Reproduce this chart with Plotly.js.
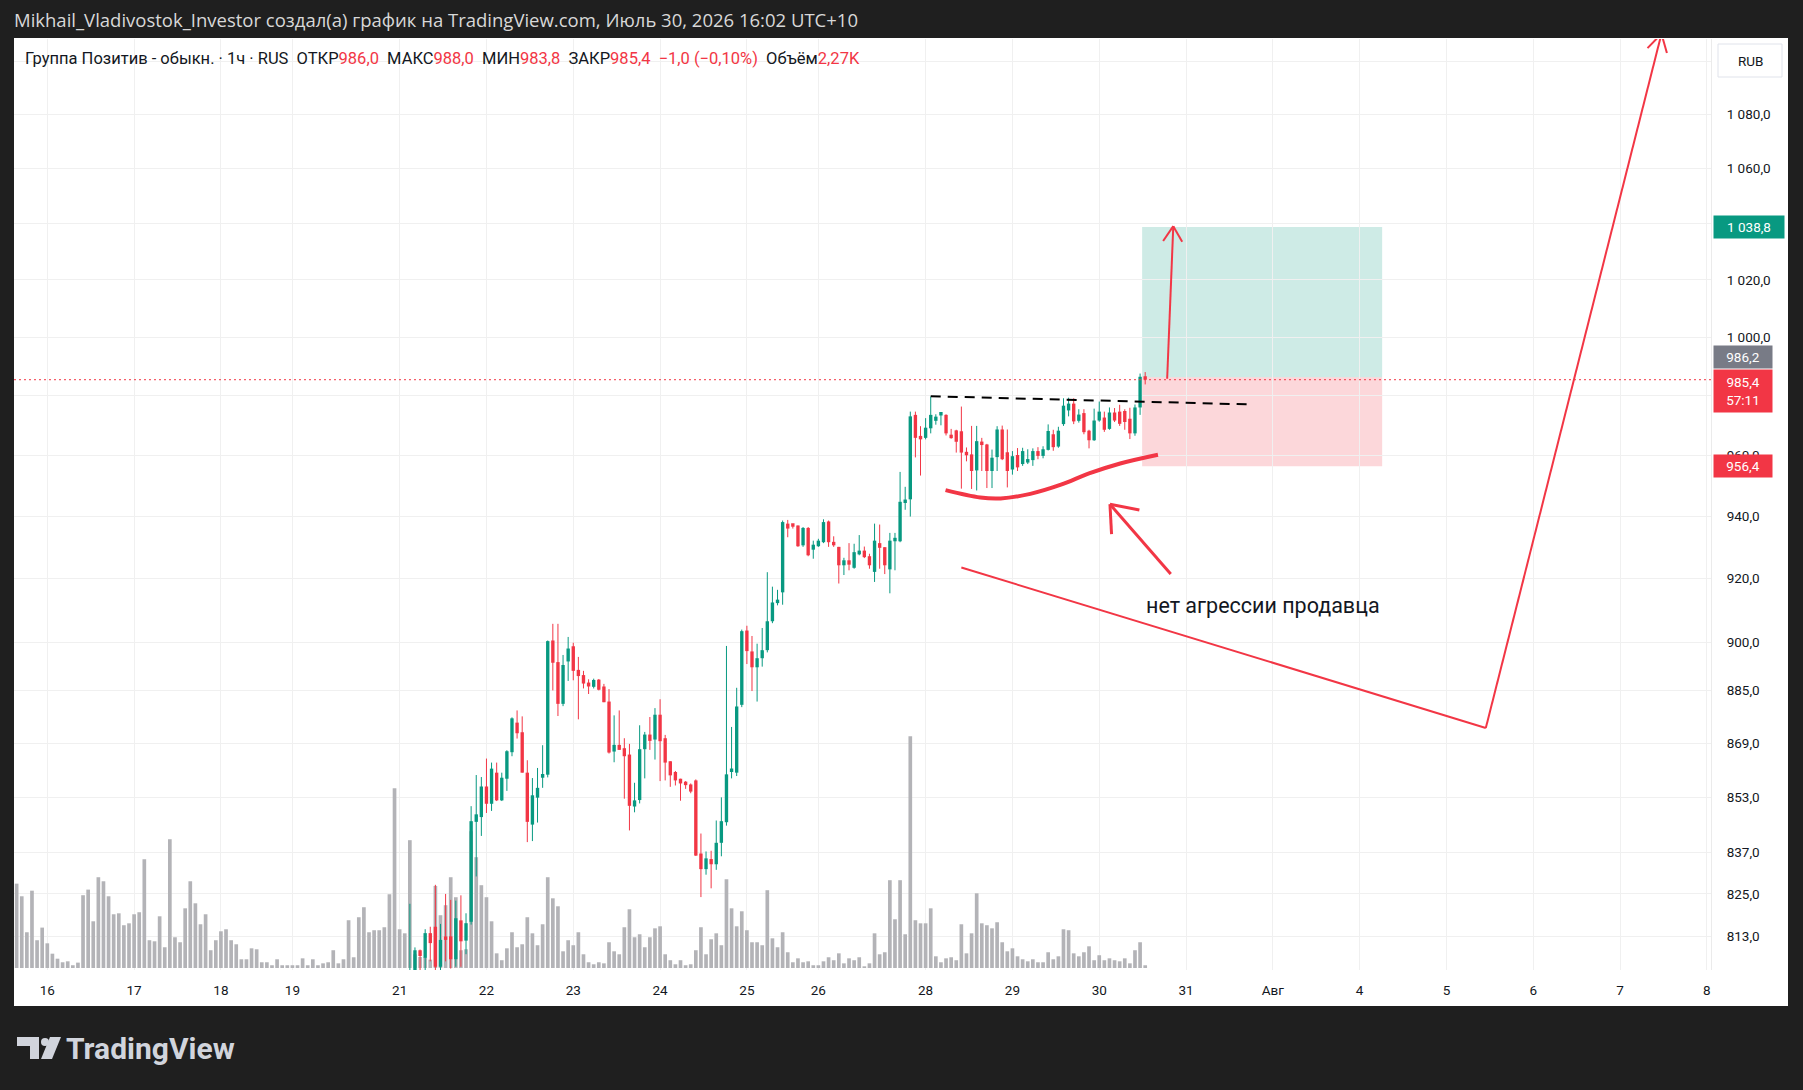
<!DOCTYPE html>
<html><head><meta charset="utf-8">
<script src="https://cdn.plot.ly/plotly-3.0.1.min.js"></script>
<style>html,body{margin:0;padding:0;background:#1f1f1f;overflow:hidden}#chart{width:1803px;height:1090px}</style>
</head><body><div id="chart"></div>
<script>
// ---------------- DATA ----------------
// bar index 0 = first hourly bar of "16"; volume starts at bar -6
const volumeStart = -6;
const volume = [
 70.8,60.2,30.0,64.9,23.3,33.9,
 20.7,12.0,7.8,4.8,5.6,2.3,4.5,61.1,65.8,39.2,76.2,72.8,60.2,45.1,45.9,35.9,37.5,
 45.1,46.8,91.3,23.3,22.4,43.4,17.4,108.1,25.8,21.6,50.1,72.8,54.3,36.7,45.1,14.9,23.3,
 30.8,32.5,23.3,19.9,7.3,7.3,16.5,15.7,4.8,4.8,2.3,7.3,2.3,2.3,
 2.3,2.3,8.1,2.3,7.3,2.3,3.9,4.8,14.9,3.9,7.3,40.1,9.0,42.6,51.0,30.0,31.7,31.7,34.2,61.9,150.9,
 32.5,29.1,107.3,11.5,9.2,9.0,7.0,68.9,44.3,52.7,76.2,59.4,14.9,15.7,114.8,93.0,69.5,
 59.4,39.2,12.3,6.5,16.5,30.0,17.4,19.9,42.6,29.1,19.1,36.7,76.2,58.5,51.8,14.0,23.3,
 19.1,30.0,11.5,4.8,3.1,4.8,3.9,21.6,14.0,11.5,34.2,49.3,25.8,28.3,17.4,25.8,33.3,
 35.0,11.5,6.5,3.1,6.5,2.3,3.1,14.9,34.2,11.5,24.1,29.1,19.1,74.5,50.1,35.0,47.6,
 31.7,21.6,21.6,19.1,65.3,24.9,17.4,30.0,13.2,4.8,8.1,4.8,5.6,2.3,
 2.3,5.6,9.0,6.5,12.3,3.9,8.1,6.5,9.0,1.4,3.9,29.1,11.5,13.2,73.7,40.9,73.7,28.3,194.6,40.1,37.5,
 37.5,50.1,9.8,4.8,8.1,9.0,6.5,36.7,12.3,29.1,62.7,37.5,35.9,33.3,38.4,21.6,14.0,
 16.5,9.8,7.3,5.6,7.3,4.8,4.8,13.2,7.3,9.8,32.5,31.7,12.3,9.8,13.2,18.2,6.5,
 10.7,6.5,8.1,6.5,5.6,8.1,3.9,14.9,21.6,2.27
];
// candles visible from bar 71
const candleStart = 71;
const open = [
 796,803,809.1,807.0,813.9,815.7,804.5,812.5,813.0,806.6,
 817.5,811.8,817.1,845.8,847.2,856.2,851.1,860.3,852.1,858.5,
 866.4,875.3,872.4,860.3,845.0,852.9,858.8,859.7,900.5,893.8,
 881.0,894.0,898.7,891.4,889.8,887.5,886.2,888.4,886.3,881.7,
 866.6,868.6,867.6,865.7,850.3,852.2,867.3,871.7,870.2,877.7,
 870.6,863.7,860.5,858.5,857.5,856.8,858.0,836.6,832.1,835.0,
 833.5,839.7,845.7,860.5,860.3,880.7,903.6,897.1,892.2,895.0,
 897.5,906.5,912.2,915.6,937.6,937.0,937.0,930.6,936.2,929.2,
 930.3,931.6,938.3,931.6,930.1,924.2,925.8,923.4,927.7,928.9,
 927.1,922.1,931.3,930.0,922.9,931.9,931.9,944.3,945.5,973.5,
 966.0,965.8,969.0,971.5,973.3,973.5,966.6,968.3,968.0,960.9,
 960.3,955.0,963.8,963.6,954.8,959.4,968.6,961.0,955.3,960.1,
 957.1,957.6,958.4,961.4,959.8,961.8,967.0,962.9,970.4,975.0,
 977.3,971.5,974.1,968.2,965.0,971.6,972.6,968.8,974.3,974.6,
 974.8,972.2,967.3,976.0,986.0
];
const high = [
 822.2,809.9,809.3,815.0,815.7,827.6,816.5,825.0,823.3,823.1,
 824.6,819.5,850.4,859.6,859.0,864.5,863.3,863.3,860.3,867.0,
 876.9,879.0,877.2,864.0,858.7,861.7,868.5,900.5,905.7,905.7,
 896.0,901.6,899.8,895.4,891.1,888.5,888.7,888.6,887.1,885.5,
 877.5,879.0,870.6,868.9,857.3,874.5,872.5,877.0,879.7,882.4,
 871.6,863.7,860.8,858.5,857.8,857.1,858.3,842.4,837.2,837.4,
 846.2,853.0,898.8,874.0,885.9,903.9,905.1,901.9,899.5,904.4,
 922.0,917.4,916.4,938.6,938.8,937.4,937.0,936.5,936.5,932.1,
 932.7,939.0,938.6,933.5,930.1,926.6,931.3,931.1,933.9,930.2,
 927.9,937.6,937.3,930.0,934.6,934.6,954.5,949.6,974.6,974.6,
 969.7,972.4,979.7,973.7,973.7,973.7,968.8,968.5,976.3,962.6,
 969.8,969.8,965.8,963.8,961.9,969.7,969.9,968.6,961.4,962.4,
 962.5,962.0,962.3,962.7,963.0,970.3,968.5,969.5,979.1,979.3,
 979.1,975.4,975.4,968.5,975.6,978.0,974.6,976.0,975.8,976.9,
 975.4,975.9,977.0,987.5,988.0
];
const low = [
 790,800,803,803,806,802,802,806,804,804.5,
 804.5,808,816.3,830.0,841.7,848.4,849.0,851.9,851.9,854.9,
 865.2,870.5,860.3,839.9,840.2,845.6,855.8,858.9,885.1,877.3,
 880.3,888.0,888.2,876.3,885.7,884.0,885.7,885.1,881.5,866.0,
 863.4,867.1,852.6,843.3,848.6,851.2,858.6,867.1,864.2,857.8,
 858.0,856.1,856.5,852.0,855.5,854.2,835.9,824.1,830.5,826.6,
 831.9,835.8,844.7,858.6,859.3,880.0,893.2,884.9,881.7,892.4,
 896.8,905.9,911.5,911.7,933.2,936.0,930.1,930.1,927.1,926.3,
 930.1,931.3,930.1,930.1,918.4,921.1,922.6,923.1,927.4,926.5,
 923.1,918.9,923.1,921.4,915.3,922.6,931.6,942.1,939.9,959.3,
 953.3,965.3,967.3,970.2,970.0,966.6,965.5,960.9,949.0,958.0,
 948.9,948.4,954.8,949.2,949.2,954.8,958.4,949.4,953.6,954.8,
 956.5,957.1,956.5,958.7,959.0,961.6,961.5,962.5,969.8,973.0,
 970.4,970.9,967.0,962.3,964.8,971.2,967.8,968.5,971.1,969.8,
 968.5,965.4,966.5,973.5,983.8
];
const close = [
 801,809.1,807.5,813.9,811.1,804.5,812.0,812.0,806.6,818.1,
 811.6,816.7,846.0,848.0,856.2,851.1,861.5,852.1,858.8,866.7,
 876.6,872.1,860.3,845.8,853.6,855.8,859.9,900.3,893.6,881.0,
 892.9,898.0,891.1,889.5,887.2,886.3,888.3,885.3,881.5,866.3,
 868.6,867.1,865.2,850.5,852.1,867.3,871.7,869.8,877.7,869.7,
 863.3,859.5,858.0,857.1,856.6,854.7,836.0,832.1,835.2,833.5,
 839.7,846.0,859.8,860.7,880.2,903.4,897.2,892.2,895.0,897.5,
 906.5,912.4,912.9,938.1,936.0,936.6,930.3,936.2,927.4,930.8,
 932.1,938.1,931.6,930.6,924.2,925.8,924.4,928.4,928.9,926.8,
 924.2,932.1,929.8,924.2,932.1,932.3,944.7,944.7,973.0,965.8,
 965.3,969.2,973.5,972.9,973.5,967.3,965.7,964.5,960.9,960.0,
 954.8,964.7,963.4,954.8,959.2,968.6,958.7,954.8,959.7,956.0,
 961.4,958.2,961.4,959.8,962.0,968.1,962.7,968.2,976.6,977.3,
 971.3,973.6,967.7,965.0,971.6,974.6,968.5,974.3,971.6,970.5,
 971.1,967.3,976.0,986.4,985.4
];
// time axis
const dayTickIndex = [0,17,34,48,69,86,103,120,137,151,172,189,206,223,240,257,274,291,308,325];
const dayTickText  = ['16','17','18','19','21','22','23','24','25','26','28','29','30','31','Авг','4','5','6','7','8'];
// price axis (grid levels; labels hidden behind the price tags are left blank)
const priceTicks = [813,825,837,853,869,885,900,920,940,960,980,1000,1020,1040,1060,1080,1100];
const priceTickText = ['813,0','825,0','837,0','853,0','869,0','885,0','900,0','920,0','940,0','960,0','','1 000,0','1 020,0','','1 060,0','1 080,0',''];
// long position tool
const posBars = [214.4, 261.4];
const posEntry = 986.2, posTarget = 1038.8, posStop = 956.4;
const lastPrice = 985.4;
// drawings (bar index, price)
const resistIdx = [173, 236], resistPrice = [979.8, 977.0];
const curveIdx = [175.9, 182.7, 186.7, 192.5, 198.5, 204.0, 210.1, 217.5];
const curvePrice = [948.5, 946.1, 945.8, 947.3, 950.3, 954.0, 957.3, 960.2];
const targetArrowIdx = [219.3, 220.5], targetArrowPrice = [985.7, 1039.1];
const sellerArrowIdx = [220.0, 208.1], sellerArrowPrice = [921.4, 943.9];
const bigLineIdx = [179.0, 281.7, 316.1], bigLinePrice = [923.5, 873.7, 1110.5];
const noteIdx = 214.7, notePrice = 911.6;

// ---------------- LAYOUT GEOMETRY ----------------
const W=1803, H=1090, ML=14, MR=92, MT=39, MB=120;
const PW=W-ML-MR, PH=H-MT-MB;
const xr=[-6.52, 325.8];
const yr=[Math.log10(803.6), Math.log10(1108.5)];
const FONT = 'Roboto, "Liberation Sans", Arial, sans-serif';
const GREEN='#089981', RED='#f23645';
const px = x => (x-ML)/PW, py = y => (H-MB-y)/PH;
function pxOf(i,p){return [ML+(i-xr[0])/(xr[1]-xr[0])*PW, MT+(yr[1]-Math.log10(p))/(yr[1]-yr[0])*PH];}
function dataOf(x,y){return [xr[0]+(x-ML)/PW*(xr[1]-xr[0]), Math.pow(10, yr[1]-(y-MT)/PH*(yr[1]-yr[0]))];}
function head(iFrom,pFrom,iTip,pTip,len,ang,color,width){
  const a=pxOf(iFrom,pFrom), b=pxOf(iTip,pTip);
  const dx=a[0]-b[0], dy=a[1]-b[1], L=Math.hypot(dx,dy), ux=dx/L, uy=dy/L;
  return [1,-1].map(s=>{
    const t=s*ang*Math.PI/180, c=Math.cos(t), sn=Math.sin(t);
    const h=dataOf(b[0]+len*(ux*c-uy*sn), b[1]+len*(ux*sn+uy*c));
    return {type:'line',xref:'x',yref:'y2',x0:iTip,y0:pTip,x1:h[0],y1:h[1],line:{color,width}};
  });
}

// ---------------- TRACES ----------------
const volX = volume.map((_,k)=>volumeStart+k);
const cIdx = open.map((_,k)=>candleStart+k);
function bodies(up){
  const x=[],b=[],y=[];
  cIdx.forEach((i,k)=>{ if((close[k]>=open[k])===up){ const lo=Math.min(open[k],close[k]); x.push(i); b.push(lo); y.push(Math.max(Math.abs(close[k]-open[k]), lo*0.0012)); }});
  return {type:'bar',x,y,base:b,width:0.66,yaxis:'y2',marker:{color:up?GREEN:RED,line:{width:0}},hoverinfo:'skip'};
}
function wicks(up){
  const x=[],y=[];
  cIdx.forEach((i,k)=>{ if((close[k]>=open[k])===up){ x.push(i,i,null); y.push(low[k],high[k],null); }});
  return {type:'scatter',mode:'lines',x,y,yaxis:'y2',line:{color:up?GREEN:RED,width:1},hoverinfo:'skip'};
}
const traces = [
  {type:'bar',x:volX,y:volume,width:0.72,yaxis:'y',marker:{color:'#b3b3b7',line:{width:0}},hoverinfo:'skip'},
  wicks(true), wicks(false), bodies(true), bodies(false),
  {type:'scatter',mode:'lines',x:curveIdx,y:curvePrice,yaxis:'y2',line:{color:RED,width:4,shape:'spline',smoothing:1},hoverinfo:'skip'}
];

// ---------------- SHAPES ----------------
const shapes = [
  {type:'rect',xref:'paper',yref:'paper',x0:px(14),x1:px(1788),y0:py(1006),y1:py(38),fillcolor:'#ffffff',line:{width:0},layer:'below'},
  {type:'rect',xref:'x',yref:'y2',x0:posBars[0],x1:posBars[1],y0:posEntry,y1:posTarget,fillcolor:'rgba(8,153,129,0.2)',line:{width:0},layer:'below'},
  {type:'rect',xref:'x',yref:'y2',x0:posBars[0],x1:posBars[1],y0:posStop,y1:posEntry,fillcolor:'rgba(242,54,69,0.2)',line:{width:0},layer:'below'},
  {type:'line',xref:'paper',yref:'y2',x0:0,x1:1,y0:lastPrice,y1:lastPrice,line:{color:RED,width:1,dash:'2px,3px'}},
  {type:'line',xref:'x',yref:'y2',x0:resistIdx[0],x1:resistIdx[1],y0:resistPrice[0],y1:resistPrice[1],line:{color:'#000000',width:2,dash:'10px,7px'}},
  {type:'line',xref:'x',yref:'y2',x0:targetArrowIdx[0],x1:targetArrowIdx[1],y0:targetArrowPrice[0],y1:targetArrowPrice[1],line:{color:RED,width:2}},
  ...head(targetArrowIdx[0],targetArrowPrice[0],targetArrowIdx[1],targetArrowPrice[1],18,32,RED,2),
  {type:'line',xref:'x',yref:'y2',x0:sellerArrowIdx[0],x1:sellerArrowIdx[1],y0:sellerArrowPrice[0],y1:sellerArrowPrice[1],line:{color:RED,width:3}},
  ...head(sellerArrowIdx[0],sellerArrowPrice[0],sellerArrowIdx[1],sellerArrowPrice[1],30,38,RED,3),
  {type:'line',xref:'x',yref:'y2',x0:bigLineIdx[0],x1:bigLineIdx[1],y0:bigLinePrice[0],y1:bigLinePrice[1],line:{color:RED,width:2}},
  {type:'line',xref:'x',yref:'y2',x0:bigLineIdx[1],x1:bigLineIdx[2],y0:bigLinePrice[1],y1:bigLinePrice[2],line:{color:RED,width:2}},
  ...head(bigLineIdx[1],bigLinePrice[1],bigLineIdx[2],bigLinePrice[2],20,30,RED,2),
  // RUB box
  {type:'rect',xref:'paper',yref:'paper',x0:px(1718),x1:px(1782),y0:py(77),y1:py(44),fillcolor:'#ffffff',line:{color:'#e0e3eb',width:1}},
  // TradingView logo
  {type:'rect',xref:'paper',yref:'paper',x0:px(17),x1:px(39),y0:py(1046),y1:py(1037),fillcolor:'#d1d4dc',line:{width:0}},
  {type:'rect',xref:'paper',yref:'paper',x0:px(30),x1:px(39),y0:py(1059),y1:py(1037),fillcolor:'#d1d4dc',line:{width:0}},
  {type:'circle',xref:'paper',yref:'paper',x0:px(41),x1:px(49),y0:py(1046),y1:py(1038),fillcolor:'#d1d4dc',line:{width:0}},
  {type:'path',xref:'paper',yref:'paper',path:`M ${px(50)} ${py(1037)} L ${px(61)} ${py(1037)} L ${px(52)} ${py(1059)} L ${px(41)} ${py(1059)} Z`,fillcolor:'#d1d4dc',line:{width:0}}
];

// ---------------- ANNOTATIONS ----------------
function axisLabel(price, text, bg, yshift, w, h, anchor){
  return {xref:'paper',x:px(1713),xanchor:'left',yref:'y2',y:Math.log10(price),yanchor:anchor||'middle',yshift:yshift,
    text,showarrow:false,bgcolor:bg,width:w,height:h,align:'center',valign:'middle',borderpad:1,
    font:{family:FONT,size:13.5,color:'#ffffff'}};
}
const R = s => `<span style="color:${RED}">${s}</span>`;
const annotations = [
  {xref:'paper',yref:'paper',x:px(12),y:py(19.5),xanchor:'left',yanchor:'middle',showarrow:false,
   text:'Mikhail_Vladivostok_Investor создал(а) график на TradingView.com, Июль 30, 2026 16:02 UTC+10',
   font:{family:'"Open Sans", Roboto, sans-serif',size:18.5,color:'#d8d8d8'}},
  {xref:'paper',yref:'paper',x:px(23),y:py(58),xanchor:'left',yanchor:'middle',showarrow:false,
   text:'Группа Позитив - обыкн. · 1ч · RUS\u00a0\u00a0ОТКР'+R('986,0')+'\u00a0\u00a0МАКС'+R('988,0')+'\u00a0\u00a0МИН'+R('983,8')+'\u00a0\u00a0ЗАКР'+R('985,4')+'\u00a0\u00a0'+R('−1,0 (−0,10%)')+'\u00a0\u00a0Объём'+R('2,27K'),
   font:{family:FONT,size:16.5,color:'#131722'}},
  {xref:'paper',yref:'paper',x:px(1750),y:py(61),xanchor:'center',yanchor:'middle',showarrow:false,text:'RUB',font:{family:FONT,size:13.5,color:'#131722'}},
  axisLabel(posTarget,'1 038,8',GREEN,0,68,20),
  axisLabel(posEntry,'986,2','#787b86',20,56,20),
  axisLabel(lastPrice,'985,4<br>57:11',RED,11,56,40,'top'),
  axisLabel(posStop,'956,4',RED,0,56,20),
  {xref:'x',yref:'y2',x:noteIdx,y:Math.log10(notePrice),xanchor:'left',yanchor:'middle',showarrow:false,
   text:'нет агрессии продавца',font:{family:FONT,size:21.5,color:'#131722'}},
  {xref:'paper',yref:'paper',x:px(64),y:py(1048),xanchor:'left',yanchor:'middle',showarrow:false,
   text:'<b>TradingView</b>',font:{family:FONT,size:30,color:'#d1d4dc'}}
];

const layout = {
  width:W, height:H, margin:{l:ML,r:MR,t:MT,b:MB,pad:0},
  paper_bgcolor:'#1f1f1f', plot_bgcolor:'rgba(0,0,0,0)', showlegend:false,
  font:{family:FONT,color:'#131722',size:13}, barmode:'overlay',
  xaxis:{range:xr,tickmode:'array',tickvals:dayTickIndex,ticktext:dayTickText,showgrid:true,gridcolor:'#f0f0f0',
    zeroline:false,showline:false,ticks:'',ticklabelstandoff:10,tickfont:{family:FONT,size:13.5,color:'#131722'}},
  yaxis:{range:[-1.7,780],visible:false,showgrid:false,zeroline:false},
  yaxis2:{type:'log',range:yr,overlaying:'y',side:'right',tickmode:'array',tickvals:priceTicks,ticktext:priceTickText,
    showgrid:true,gridcolor:'#f0f0f0',zeroline:false,showline:true,linecolor:'#ebebeb',ticks:'',ticklabelstandoff:12,
    tickfont:{family:FONT,size:13.5,color:'#131722'}},
  shapes, annotations
};
Plotly.newPlot('chart', traces, layout, {staticPlot:true, displayModeBar:false});
</script></body></html>
